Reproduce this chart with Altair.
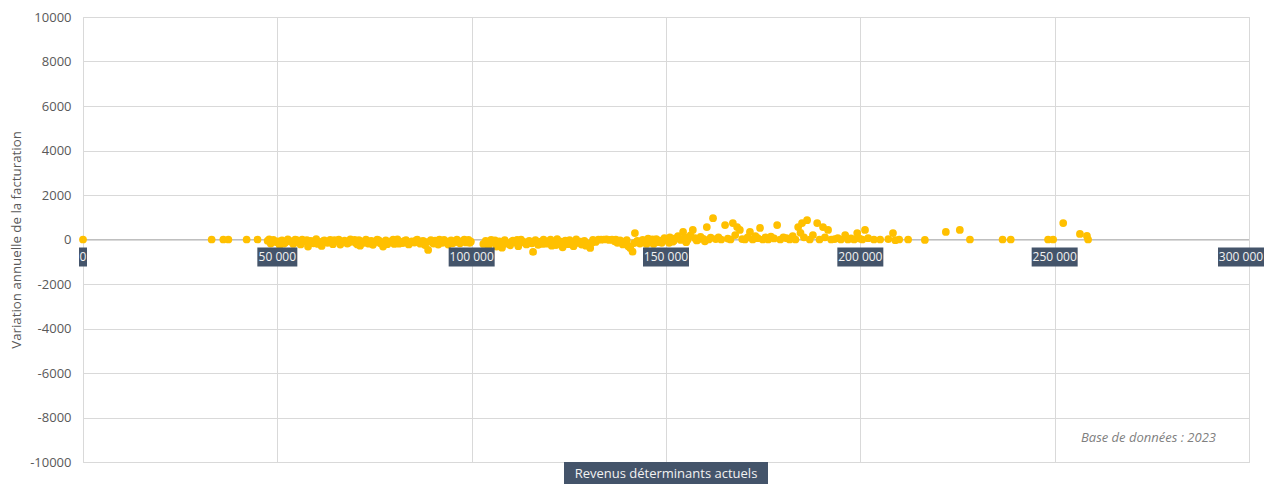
import altair as alt
import pandas as pd

# Revenus déterminants actuels (x) and variation annuelle de la facturation (y)
revenus = [
    0, 33100, 36100, 37400, 42100, 44900, 47500, 48300, 49000, 49800,
    50600, 51200, 52000, 52700, 53500, 54100, 55000, 55600, 56400, 57200,
    57900, 58600, 59300, 60000, 60700, 61400, 62100, 62900, 63600, 64300,
    65000, 65800, 66500, 67300, 68000, 68800, 69500, 70200, 71000, 71300,
    72000, 72800, 73500, 74200, 75000, 75700, 76500, 77200, 77900, 78700,
    79400, 80100, 80900, 81600, 82300, 83100, 83800, 84600, 85300, 86000,
    86800, 87500, 88300, 88800, 89500, 90200, 91000, 91700, 92500, 93200,
    94000, 94700, 95500, 96200, 97000, 97700, 98500, 99200, 99800, 47900,
    50200, 51600, 53100, 54600, 56000, 57600, 59000, 60400, 61800, 63200,
    64700, 66200, 67000, 68400, 69900, 70600, 72400, 73900, 74600, 76100,
    77600, 78300, 79800, 81300, 82700, 84200, 85700, 87100, 88000, 89900,
    90600, 91400, 92900, 93600, 95100, 95900, 96600, 98100, 99500, 103000,
    103600, 104300, 105000, 105700, 106400, 107100, 107800, 108500, 109200, 109900,
    110600, 111300, 112000, 112700, 113400, 114100, 114800, 115500, 115800, 116400,
    117100, 117800, 118500, 119200, 119900, 120600, 121300, 122000, 122700, 123400,
    124100, 124800, 125500, 126200, 126900, 127600, 128300, 129000, 129700, 130500,
    131200, 131900, 132600, 133300, 134000, 134700, 135400, 136100, 136800, 137500,
    138200, 138900, 139600, 140300, 140800, 141400, 142000, 142600, 143300, 144000,
    144700, 145400, 146100, 146800, 147500, 148200, 148900, 149600, 104700, 106000,
    108200, 110200, 111700, 113800, 116000, 118200, 120300, 121700, 123000, 125200,
    126600, 128000, 129400, 130900, 137100, 138600, 139900, 141800, 143600, 145000,
    146500, 147900, 149300, 150300, 151000, 151700, 152400, 153100, 153800, 154400,
    154900, 155600, 156300, 156900, 157500, 158200, 158900, 159600, 160500, 161000,
    161500, 162100, 162800, 163500, 164200, 165200, 165900, 166600, 167200, 167800,
    168300, 169000, 169600, 170300, 171000, 171600, 172300, 173000, 173600, 174200,
    174900, 175600, 176300, 177000, 177800, 178600, 179400, 180200, 181000, 181800,
    182600, 183300, 184000, 184600, 185000, 185500, 186300, 187000, 187800, 188900,
    189500, 190400, 190900, 191700, 192500, 193400, 194200, 195000, 196100, 196800,
    197600, 198400, 199200, 199800, 200500, 201200, 202000, 203500, 205100, 207200,
    208400, 209000, 210000, 212300, 216600, 222000, 225600, 228200, 236600, 238700,
    248300, 249600, 252200, 256500, 258300, 258600, 150800, 152000, 155200, 157900,
    160000,
]
variation = [
    0, 0, 0, 0, 0, 0, -60, -180, -20, -120,
    -250, -40, -150, 10, -90, -200, -30, -140, 0, -100,
    -320, -60, -170, 20, -110, -290, -40, -150, -20, -210,
    -80, 0, -130, -50, -180, 10, -90, -160, -30, -280,
    -100, -10, -190, -60, -120, 0, -170, -320, -40, -130,
    -70, -200, 10, -110, -160, -30, -220, -80, -140, 0,
    -190, -60, -120, -470, -30, -180, -90, -10, -150, -70,
    -230, -40, -110, 0, -170, -60, -130, -20, -90, 10,
    -80, -190, -60, -10, -220, -30, -90, -200, -70, -110,
    -30, -230, -90, -140, -20, -220, -150, -80, -240, -40,
    -110, -210, -10, -190, -60, -150, -40, -100, -250, -140,
    -50, -230, -20, -140, -170, -60, -120, -10, -150, -200,
    -60, -280, -20, -150, -320, -80, -370, -30, -180, -260,
    -50, -140, -300, 0, -110, -220, -60, -170, -560, -30,
    -240, -100, -10, -190, -70, -280, -130, 20, -160, -350,
    -50, -210, -90, -300, 10, -140, -230, -60, -170, -380,
    -20, -110, 0, -10, 0, 10, -20, 0, -80, -150,
    -40, -220, -100, -300, -380, -550, 290, -60, -180, -20,
    -120, 40, -90, -200, 20, -50, -150, 60, -120, -40,
    -200, -110, -20, -160, -110, -200, -10, -250, -90, -30,
    -180, -100, -280, -150, -10, -120, -30, -160, -80, -200,
    10, -120, -20, -30, 100, -100, 50, 150, -20, 340,
    80, 0, 180, 430, 60, -10, 120, 30, 560, 0,
    80, 960, 20, 100, 0, 650, 40, 0, 740, 200,
    560, 430, 20, 0, 100, 340, 0, 150, 60, 520,
    0, 100, 0, 130, 50, 650, 0, 100, 60, 0,
    150, 0, 560, 300, 740, 100, 870, 0, 200, 740,
    0, 560, 100, 430, 0, 20, 60, 0, 200, 0,
    50, 0, 290, 40, 0, 430, 60, 0, 0, 20,
    290, -30, 0, 0, -20, 340, 430, 0, 0, 0,
    0, 0, 740, 250, 160, 0, -150, -60, -120, -40,
    -80,
]

x_tick_values = [0, 50000, 100000, 150000, 200000, 250000, 300000]
x_tick_labels = ["0", "50 000", "100 000", "150 000", "200 000", "250 000", "300 000"]
y_tick_values = [-10000, -8000, -6000, -4000, -2000, 0, 2000, 4000, 6000, 8000, 10000]

x_title = "Revenus déterminants actuels"
y_title = "Variation annuelle de la facturation"
note = "Base de données : 2023"

FONT = "Open Sans"
GRID = "#d9d9d9"
TEXT = "#595959"
BOX = "#44546A"

df = pd.DataFrame({"revenu": revenus, "variation": variation})
ticks = pd.DataFrame({"v": x_tick_values, "label": x_tick_labels, "z": [0] * len(x_tick_values)})
ticks["n"] = ticks["label"].str.len()
title_df = pd.DataFrame({"v": [150000], "z": [-10000], "label": [x_title]})
note_df = pd.DataFrame({"label": [note]})

xs = alt.Scale(domain=[0, 300000], nice=False, zero=False)
ys = alt.Scale(domain=[-10000, 10000], nice=False, zero=False)

W, H = 1166, 445

points = alt.Chart(df).mark_circle(size=60, color="#FFC000", opacity=1).encode(
    x=alt.X("revenu:Q", scale=xs,
            axis=alt.Axis(values=x_tick_values, grid=True, gridColor=GRID, labels=False,
                          ticks=False, domain=False, title=None)),
    y=alt.Y("variation:Q", scale=ys,
            axis=alt.Axis(values=y_tick_values, labelExpr="'' + datum.value", grid=True,
                          gridColor=GRID, ticks=False, domain=False, title=y_title,
                          labelFont=FONT, labelFontSize=13, labelColor=TEXT, labelPadding=12,
                          titleFont=FONT, titleFontSize=13.3, titleColor=TEXT,
                          titleFontWeight="normal", titlePadding=6)),
)

zero_line = alt.Chart(pd.DataFrame({"z": [0]})).mark_rule(color="#bfbfbf", strokeWidth=1).encode(
    y=alt.Y("z:Q", scale=ys)
)


def tick_boxes(cond, left, right):
    return alt.Chart(ticks).transform_filter(cond).mark_rect(
        color=BOX, xOffset=left, x2Offset=right, yOffset=8, y2Offset=27
    ).encode(
        x=alt.X("v:Q", scale=xs), x2="v:Q",
        y=alt.Y("z:Q", scale=ys), y2="z:Q",
    )


def tick_labels(cond, dx):
    return alt.Chart(ticks).transform_filter(cond).mark_text(
        color="#f2f2f2", font=FONT, fontSize=12, dy=17.5, dx=dx, baseline="middle", align="center"
    ).encode(
        x=alt.X("v:Q", scale=xs), y=alt.Y("z:Q", scale=ys), text="label:N"
    )


last = "datum.v == 300000"
not_last = "datum.v < 300000"
boxes = (
    tick_boxes("datum.n == 1", -4, 4)
    + tick_boxes("datum.n == 6", -20, 20)
    + tick_boxes(f"datum.n == 7 && {not_last}", -23, 23)
    + tick_boxes(last, -31, 15)
)
tick_text = tick_labels(not_last, 0) + tick_labels(last, -8)

title_box = alt.Chart(title_df).mark_rect(
    color=BOX, xOffset=-102, x2Offset=102, yOffset=0, y2Offset=24
).encode(
    x=alt.X("v:Q", scale=xs), x2="v:Q", y=alt.Y("z:Q", scale=ys), y2="z:Q"
)
title_text = alt.Chart(title_df).mark_text(
    color="#f2f2f2", font=FONT, fontSize=13, dy=12, baseline="middle", align="center"
).encode(
    x=alt.X("v:Q", scale=xs), y=alt.Y("z:Q", scale=ys), text="label:N"
)

note_text = alt.Chart(note_df).mark_text(
    color="#7f7f7f", font=FONT, fontSize=13, fontStyle="italic", align="right", baseline="middle"
).encode(
    x=alt.value(1133), y=alt.value(421), text="label:N"
)

chart = alt.layer(
    zero_line, points, boxes, tick_text, title_box, title_text, note_text
).properties(
    width=W, height=H,
    autosize=alt.AutoSizeParams(type="none"),
    padding={"left": 75, "top": 9, "right": 15, "bottom": 22},
).configure_view(
    stroke=GRID, strokeWidth=1
).configure_axis(
    labelFont=FONT, titleFont=FONT
)

chart.save("out.html", embed_options={"renderer": "svg", "actions": False})
